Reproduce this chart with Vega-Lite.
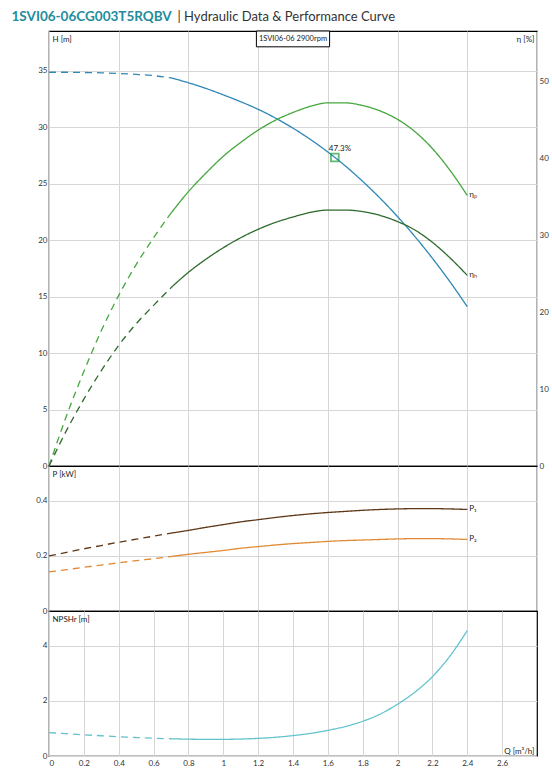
{
  "$schema": "https://vega.github.io/schema/vega-lite/v6.json",
  "background": "white",
  "padding": {"left": 10, "top": 8, "right": 0, "bottom": 0},
  "spacing": 0,
  "bounds": "flush",
  "datasets": {
    "curves": [
      {"Q": 0.0, "H": 34.85, "etap": 0, "etah": 0, "P1": 0.2, "P2": 0.142, "NPSH": 0.85, "part": "d"},
      {"Q": 0.1, "H": 34.85, "etap": 6.5, "etah": 4.6, "P1": 0.213, "P2": 0.15, "NPSH": 0.81, "part": "d"},
      {"Q": 0.2, "H": 34.83, "etap": 12.3, "etah": 8.7, "P1": 0.226, "P2": 0.159, "NPSH": 0.77, "part": "d"},
      {"Q": 0.3, "H": 34.8, "etap": 17.6, "etah": 12.4, "P1": 0.238, "P2": 0.167, "NPSH": 0.735, "part": "d"},
      {"Q": 0.4, "H": 34.74, "etap": 22.2, "etah": 15.7, "P1": 0.25, "P2": 0.175, "NPSH": 0.7, "part": "d"},
      {"Q": 0.5, "H": 34.66, "etap": 26.2, "etah": 18.5, "P1": 0.261, "P2": 0.183, "NPSH": 0.67, "part": "d"},
      {"Q": 0.6, "H": 34.55, "etap": 29.7, "etah": 20.9, "P1": 0.272, "P2": 0.19, "NPSH": 0.645, "part": "d"},
      {"Q": 0.7, "H": 34.35, "etap": 32.9, "etah": 23.2, "P1": 0.283, "P2": 0.198, "NPSH": 0.625, "part": "d"},
      {"Q": 0.7, "H": 34.35, "etap": 32.9, "etah": 23.2, "P1": 0.283, "P2": 0.198, "NPSH": 0.625, "part": "s"},
      {"Q": 0.8, "H": 33.92, "etap": 35.7, "etah": 25.2, "P1": 0.293, "P2": 0.206, "NPSH": 0.61, "part": "s"},
      {"Q": 0.9, "H": 33.42, "etap": 38.1, "etah": 26.9, "P1": 0.304, "P2": 0.213, "NPSH": 0.605, "part": "s"},
      {"Q": 1.0, "H": 32.85, "etap": 40.3, "etah": 28.4, "P1": 0.314, "P2": 0.22, "NPSH": 0.605, "part": "s"},
      {"Q": 1.1, "H": 32.24, "etap": 42.1, "etah": 29.7, "P1": 0.324, "P2": 0.228, "NPSH": 0.615, "part": "s"},
      {"Q": 1.2, "H": 31.57, "etap": 43.7, "etah": 30.8, "P1": 0.332, "P2": 0.234, "NPSH": 0.64, "part": "s"},
      {"Q": 1.3, "H": 30.79, "etap": 45.0, "etah": 31.7, "P1": 0.34, "P2": 0.24, "NPSH": 0.68, "part": "s"},
      {"Q": 1.4, "H": 29.9, "etap": 46.0, "etah": 32.4, "P1": 0.347, "P2": 0.245, "NPSH": 0.74, "part": "s"},
      {"Q": 1.5, "H": 28.9, "etap": 46.8, "etah": 33.0, "P1": 0.353, "P2": 0.249, "NPSH": 0.82, "part": "s"},
      {"Q": 1.6, "H": 27.79, "etap": 47.25, "etah": 33.3, "P1": 0.358, "P2": 0.253, "NPSH": 0.93, "part": "s"},
      {"Q": 1.7, "H": 26.56, "etap": 47.25, "etah": 33.3, "P1": 0.362, "P2": 0.256, "NPSH": 1.07, "part": "s"},
      {"Q": 1.8, "H": 25.19, "etap": 46.9, "etah": 33.1, "P1": 0.366, "P2": 0.258, "NPSH": 1.26, "part": "s"},
      {"Q": 1.9, "H": 23.7, "etap": 46.2, "etah": 32.6, "P1": 0.369, "P2": 0.26, "NPSH": 1.52, "part": "s"},
      {"Q": 2.0, "H": 22.07, "etap": 45.1, "etah": 31.8, "P1": 0.371, "P2": 0.262, "NPSH": 1.88, "part": "s"},
      {"Q": 2.1, "H": 20.3, "etap": 43.5, "etah": 30.7, "P1": 0.372, "P2": 0.263, "NPSH": 2.32, "part": "s"},
      {"Q": 2.2, "H": 18.38, "etap": 41.3, "etah": 29.1, "P1": 0.372, "P2": 0.263, "NPSH": 2.88, "part": "s"},
      {"Q": 2.3, "H": 16.32, "etap": 38.5, "etah": 27.1, "P1": 0.371, "P2": 0.262, "NPSH": 3.62, "part": "s"},
      {"Q": 2.4, "H": 14.1, "etap": 35.2, "etah": 24.8, "P1": 0.369, "P2": 0.26, "NPSH": 4.55, "part": "s"}
    ],
    "bep": [{"Q": 1.64, "H": 27.3, "label": "47.3%"}],
    "box": [{"label": "1SVI06-06 2900rpm"}]
  },
  "vconcat": [
    {
      "width": 488,
      "height": 435,
      "data": {"name": "curves"},
      "layer": [
        {
          "layer": [
            {
              "mark": {"type": "line", "color": "#2f88b6", "strokeWidth": 1.3, "interpolate": "monotone"},
              "encoding": {
                "x": {"field": "Q", "type": "quantitative", "scale": {"domain": [0, 2.8], "nice": false},
                  "axis": {"orient": "top", "values": [0, 0.2, 0.4, 0.6, 0.8, 1, 1.2, 1.4, 1.6, 1.8, 2, 2.2, 2.4, 2.6, 2.8], "labels": false, "grid": true,
                    "title": "1SVI06-06CG003T5RQBV", "titleX": -38, "titleY": -11, "titleAlign": "left", "titleBaseline": "alphabetic", "titleAngle": 0, "titleFont": "Lato", "titleFontSize": 13.5, "titleFontWeight": "bold", "titleColor": "#1f8d9c"}},
                "y": {"field": "H", "type": "quantitative", "scale": {"domain": [0, 38.5], "nice": false},
                  "axis": {"orient": "left", "values": [0, 5, 10, 15, 20, 25, 30, 35], "grid": true, "title": "H [m]", "titleX": 3, "titleY": 4, "titleAngle": 0, "titleAlign": "left", "titleBaseline": "top"}},
                "detail": {"field": "part", "type": "nominal"},
                "strokeDash": {"field": "part", "type": "nominal", "scale": {"domain": ["d", "s"], "range": [[7, 5], [1, 0]]}, "legend": null}
              }
            },
            {
              "data": {"name": "box"},
              "mark": {"type": "rect", "fill": "white", "stroke": "#000000", "strokeWidth": 1},
              "encoding": {
                "x": {"datum": 1.19, "type": "quantitative"},
                "x2": {"datum": 1.61},
                "y": {"datum": 37.1, "type": "quantitative"},
                "y2": {"datum": 38.5}
              }
            },
            {
              "data": {"name": "box"},
              "mark": {"type": "text", "font": "Lato", "fontSize": 7.5, "color": "#222222", "align": "center", "baseline": "middle"},
              "encoding": {
                "x": {"datum": 1.4, "type": "quantitative"},
                "y": {"datum": 37.8, "type": "quantitative"},
                "text": {"field": "label"}
              }
            },
            {
              "data": {"name": "bep"},
              "mark": {"type": "point", "shape": "square", "size": 60, "filled": false, "stroke": "#1f9a3f", "strokeWidth": 1.8},
              "encoding": {
                "x": {"field": "Q", "type": "quantitative"},
                "y": {"field": "H", "type": "quantitative"}
              }
            },
            {
              "data": {"name": "bep"},
              "mark": {"type": "text", "font": "Lato", "fontSize": 8, "color": "#222222", "align": "left", "baseline": "alphabetic", "dx": -6, "dy": -7},
              "encoding": {
                "x": {"field": "Q", "type": "quantitative"},
                "y": {"field": "H", "type": "quantitative"},
                "text": {"field": "label"}
              }
            }
          ]
        },
        {
          "layer": [
            {
              "mark": {"type": "line", "color": "#45a83e", "strokeWidth": 1.3, "interpolate": "monotone"},
              "encoding": {
                "x": {"field": "Q", "type": "quantitative",
                  "axis": {"orient": "bottom", "labels": false, "grid": false, "values": [0],
                    "title": "| Hydraulic Data & Performance Curve", "titleX": 128, "titleY": -446, "titleAlign": "left", "titleBaseline": "alphabetic", "titleAngle": 0, "titleFont": "Lato", "titleFontSize": 13, "titleFontWeight": "normal", "titleColor": "#333333"}},
                "y": {"field": "etap", "type": "quantitative", "scale": {"domain": [0, 56.6], "nice": false},
                  "axis": {"orient": "right", "values": [0, 10, 20, 30, 40, 50], "grid": false, "title": "η [%]", "titleX": -3, "titleY": 4, "titleAngle": 0, "titleAlign": "right", "titleBaseline": "top"}},
                "detail": {"field": "part", "type": "nominal"},
                "strokeDash": {"field": "part", "type": "nominal", "scale": {"domain": ["d", "s"], "range": [[7, 5], [1, 0]]}, "legend": null}
              }
            },
            {
              "mark": {"type": "line", "color": "#2f6b2c", "strokeWidth": 1.3, "interpolate": "monotone"},
              "encoding": {
                "x": {"field": "Q", "type": "quantitative"},
                "y": {"field": "etah", "type": "quantitative"},
                "detail": {"field": "part", "type": "nominal"},
                "strokeDash": {"field": "part", "type": "nominal", "scale": {"domain": ["d", "s"], "range": [[7, 5], [1, 0]]}, "legend": null}
              }
            },
            {
              "transform": [{"filter": "datum.Q == 2.4"}],
              "mark": {"type": "text", "font": "Lato", "fontSize": 8, "color": "#222222", "align": "left", "baseline": "middle", "dx": 2},
              "encoding": {
                "x": {"field": "Q", "type": "quantitative"},
                "y": {"field": "etap", "type": "quantitative"},
                "text": {"value": "ηₚ"}
              }
            },
            {
              "transform": [{"filter": "datum.Q == 2.4"}],
              "mark": {"type": "text", "font": "Lato", "fontSize": 8, "color": "#222222", "align": "left", "baseline": "middle", "dx": 2},
              "encoding": {
                "x": {"field": "Q", "type": "quantitative"},
                "y": {"field": "etah", "type": "quantitative"},
                "text": {"value": "ηₕ"}
              }
            }
          ]
        }
      ],
      "resolve": {"scale": {"y": "independent"}, "axis": {"x": "independent"}}
    },
    {
      "width": 488,
      "height": 145,
      "data": {"name": "curves"},
      "layer": [
        {
          "mark": {"type": "line", "color": "#5e3716", "strokeWidth": 1.3, "interpolate": "monotone"},
          "encoding": {
            "x": {"field": "Q", "type": "quantitative", "scale": {"domain": [0, 2.8], "nice": false},
              "axis": {"orient": "bottom", "values": [0, 0.2, 0.4, 0.6, 0.8, 1, 1.2, 1.4, 1.6, 1.8, 2, 2.2, 2.4, 2.6, 2.8], "labels": false, "grid": true, "title": null}},
            "y": {"field": "P1", "type": "quantitative", "scale": {"domain": [0, 0.527], "nice": false},
              "axis": {"orient": "left", "values": [0, 0.2, 0.4], "format": "~g", "grid": true, "title": "P [kW]", "titleX": 3, "titleY": 4, "titleAngle": 0, "titleAlign": "left", "titleBaseline": "top"}},
            "detail": {"field": "part", "type": "nominal"},
            "strokeDash": {"field": "part", "type": "nominal", "scale": {"domain": ["d", "s"], "range": [[7, 5], [1, 0]]}, "legend": null}
          }
        },
        {
          "mark": {"type": "line", "color": "#e08a35", "strokeWidth": 1.3, "interpolate": "monotone"},
          "encoding": {
            "x": {"field": "Q", "type": "quantitative"},
            "y": {"field": "P2", "type": "quantitative"},
            "detail": {"field": "part", "type": "nominal"},
            "strokeDash": {"field": "part", "type": "nominal", "scale": {"domain": ["d", "s"], "range": [[7, 5], [1, 0]]}, "legend": null}
          }
        },
        {
          "transform": [{"filter": "datum.Q == 2.4"}],
          "mark": {"type": "text", "font": "Lato", "fontSize": 8, "color": "#222222", "align": "left", "baseline": "middle", "dx": 2},
          "encoding": {
            "x": {"field": "Q", "type": "quantitative"},
            "y": {"field": "P1", "type": "quantitative"},
            "text": {"value": "P₁"}
          }
        },
        {
          "transform": [{"filter": "datum.Q == 2.4"}],
          "mark": {"type": "text", "font": "Lato", "fontSize": 8, "color": "#222222", "align": "left", "baseline": "middle", "dx": 2},
          "encoding": {
            "x": {"field": "Q", "type": "quantitative"},
            "y": {"field": "P2", "type": "quantitative"},
            "text": {"value": "P₂"}
          }
        }
      ]
    },
    {
      "width": 488,
      "height": 145,
      "data": {"name": "curves"},
      "mark": {"type": "line", "color": "#62c3cc", "strokeWidth": 1.3, "interpolate": "monotone"},
      "encoding": {
        "x": {"field": "Q", "type": "quantitative", "scale": {"domain": [0, 2.8], "nice": false},
          "axis": {"orient": "bottom", "values": [0, 0.2, 0.4, 0.6, 0.8, 1, 1.2, 1.4, 1.6, 1.8, 2, 2.2, 2.4, 2.6], "format": "~g", "grid": true, "labelPadding": 3,
            "title": "Q [m³/h]", "titleX": 485, "titleY": -3, "titleAngle": 0, "titleAlign": "right", "titleBaseline": "alphabetic"}},
        "y": {"field": "NPSH", "type": "quantitative", "scale": {"domain": [0, 5.26], "nice": false},
          "axis": {"orient": "left", "values": [0, 2, 4], "grid": true, "title": "NPSHr [m]", "titleX": 3, "titleY": 4, "titleAngle": 0, "titleAlign": "left", "titleBaseline": "top"}},
        "detail": {"field": "part", "type": "nominal"},
        "strokeDash": {"field": "part", "type": "nominal", "scale": {"domain": ["d", "s"], "range": [[7, 5], [1, 0]]}, "legend": null}
      }
    }
  ],
  "config": {
    "font": "Lato",
    "view": {"stroke": "#000000", "strokeWidth": 1.2},
    "axis": {
      "labelFont": "Lato",
      "labelFontSize": 8,
      "labelColor": "#333333",
      "labelPadding": 2,
      "ticks": false,
      "domain": false,
      "gridColor": "#d6d6d6",
      "gridWidth": 1,
      "titleFont": "Lato",
      "titleFontSize": 8,
      "titleFontWeight": "normal",
      "titleColor": "#222222"
    }
  }
}
